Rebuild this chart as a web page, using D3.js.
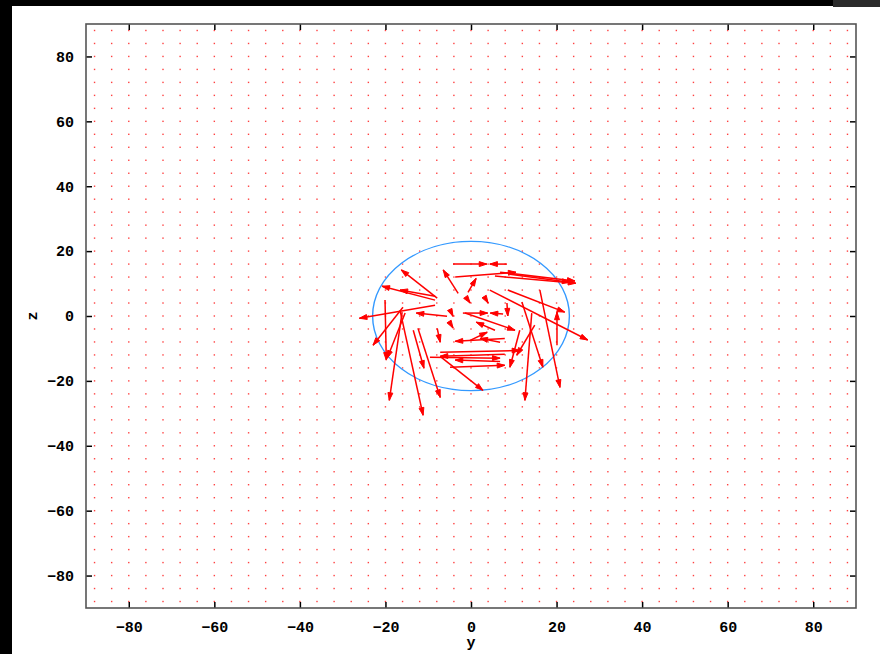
<!DOCTYPE html>
<html>
<head>
<meta charset="utf-8">
<script src="https://cdn.jsdelivr.net/npm/d3@7"></script>
<style>
  body { margin: 0; background: #fff; }
  svg { display: block; }
  .tick text { font-family: "Liberation Mono", "DejaVu Sans Mono", monospace; font-weight: bold; font-size: 15px; fill: #000; }
</style>
</head>
<body>
<div id="chart"></div>
<script>
// sample grid (both axes) where the field is evaluated
const gridCoords = [-88, -84, -80, -76, -72, -68, -64, -60, -56, -52, -48, -44, -40, -36, -32, -28, -24, -20, -16, -12, -8, -4,
    0, 4, 8, 12, 16, 20, 24, 28, 32, 36, 40, 44, 48, 52, 56, 60, 64, 68, 72, 76, 80, 84, 88];

const tickValues = [-80, -60, -40, -20, 0, 20, 40, 60, 80];

// non-zero vectors: start point and components
const vecX  = [-4.2, 8.4, -3.7, 5.6, 9.1, -7.9, -3.0, -8.4, -8.4, -8.4, -5.6, -1.9, 7.5, 8.4, 3.3, -0.7, -4.9, -1.4, -7.9, -13.5,
    -16.1, -16.6, -20.1, -15.9, -15.4, -12.4, 7.9, -9.6, -4.9, -7.0, 7.9, 11.9, 16.1, 14.2, 20.1, 4.4, 8.6, 14.9, 11.4, 5.6,
    -0.2, 6.8, -0.7, -4.9, -7.2, 6.8, 6.8];
const vecY  = [16.0, 16.0, 12.0, 12.3, 12.9, 5.5, 7.0, 4.9, 6.1, 3.3, -0.1, 0.9, 0.6, 4.0, 5.5, 4.9, -2.2, 0.9, -3.8, -4.4,
    1.2, 1.8, 4.9, 2.7, 0.9, -3.8, -11.8, -12.7, -15.8, -12.7, -6.9, 4.3, 8.0, 0.9, -9.0, 8.0, 8.0, -2.8, -4.4, -4.4,
    -7.5, -8.1, 7.3, 1.8, -11.2, -14.0, 13.5];
const vecDX = [7.9, -4.0, 14.2, 18.9, 14.0, -8.4, -3.5, -12.4, -8.2, -17.7, -7.2, 5.8, -3.0, 0.2, 0.7, 0.5, 0.7, 11.7, 0.7, 2.5,
    -3.0, 5.4, 0.3, -7.0, -4.2, 5.2, -15.1, 16.4, 12.8, 9.8, -11.6, 4.9, 4.7, -1.6, 0.0, 22.9, 13.3, -4.2, -2.3, -4.4,
    4.0, -4.7, 1.9, 0.7, 18.6, -10.5, 17.5];
const vecDY = [0.0, 0.0, 1.5, -2.2, -2.5, 8.7, 7.2, 4.3, 1.9, -4.0, 1.0, 0.0, 0.3, -4.0, -1.5, -0.9, -1.5, -5.3, -4.3, -11.7,
    -27.2, -32.4, -18.5, -11.7, -13.9, -21.3, -0.6, -0.3, 0.6, -10.2, -0.9, -20.1, -30.0, -26.9, 10.2, -15.4, -6.8, -9.3, -11.4, 2.5,
    2.5, 1.2, 4.3, -1.9, 0.6, 0.4, -2.7];

const circleRadius = 23;

const width = 880, height = 654;
const margin = { left: 86, right: 24, top: 24, bottom: 46 };

const svg = d3.select("#chart").append("svg")
    .attr("width", width)
    .attr("height", height);

// window chrome around the plot
svg.append("rect").attr("x", 0).attr("y", 0).attr("width", 833).attr("height", 6).attr("fill", "#000");
svg.append("rect").attr("x", 833).attr("y", 0).attr("width", 47).attr("height", 7).attr("fill", "#2a2a2a");
svg.append("rect").attr("x", 0).attr("y", 0).attr("width", 12).attr("height", height).attr("fill", "#000");

const x = d3.scaleLinear().domain([-90, 90]).range([margin.left, width - margin.right]);
const y = d3.scaleLinear().domain([-90, 90]).range([height - margin.bottom, margin.top]);

// grid of zero vectors drawn as dots
const gridPts = [];
gridCoords.forEach(gx => gridCoords.forEach(gy => gridPts.push([gx, gy])));

svg.append("g")
    .selectAll("rect")
    .data(gridPts)
    .enter()
    .append("rect")
    .attr("x", d => x(d[0]) - 0.7)
    .attr("y", d => y(d[1]) - 0.7)
    .attr("width", 1.4)
    .attr("height", 1.4)
    .attr("fill", "#ff2020")
    .attr("opacity", 0.85);

// boundary circle
svg.append("ellipse")
    .attr("cx", x(0))
    .attr("cy", y(0))
    .attr("rx", x(circleRadius) - x(0))
    .attr("ry", y(0) - y(circleRadius))
    .attr("fill", "none")
    .attr("stroke", "#3399ff")
    .attr("stroke-width", 1.4);

// vectors
const vectors = vecX.map((v, i) => ({ x0: v, y0: vecY[i], x1: v + vecDX[i], y1: vecY[i] + vecDY[i] }));
const headLen = 8, headAng = Math.PI / 10;

const vg = svg.append("g");
vectors.forEach(d => {
    const px0 = x(d.x0), py0 = y(d.y0), px1 = x(d.x1), py1 = y(d.y1);
    const a = Math.atan2(py1 - py0, px1 - px0);
    vg.append("line")
        .attr("x1", px0).attr("y1", py0)
        .attr("x2", px1).attr("y2", py1)
        .attr("stroke", "#ff0000")
        .attr("stroke-width", 1.5);
    const hx1 = px1 - headLen * Math.cos(a - headAng), hy1 = py1 - headLen * Math.sin(a - headAng);
    const hx2 = px1 - headLen * Math.cos(a + headAng), hy2 = py1 - headLen * Math.sin(a + headAng);
    vg.append("path")
        .attr("d", `M${hx1},${hy1}L${px1},${py1}L${hx2},${hy2}Z`)
        .attr("fill", "#ff0000")
        .attr("stroke", "#ff0000")
        .attr("stroke-width", 1);
});

// axes with inward ticks
const plotB = height - margin.bottom, plotR = width - margin.right;

svg.append("g")
    .attr("transform", `translate(0,${plotB})`)
    .call(d3.axisBottom(x).tickValues(tickValues).tickSize(-6).tickPadding(13))
    .call(g => g.select(".domain").remove());

svg.append("g")
    .attr("transform", `translate(0,${margin.top})`)
    .call(d3.axisTop(x).tickValues(tickValues).tickSize(-6).tickFormat(""))
    .call(g => g.select(".domain").remove());

svg.append("g")
    .attr("transform", `translate(${margin.left},0)`)
    .call(d3.axisLeft(y).tickValues(tickValues).tickSize(-6).tickPadding(12))
    .call(g => g.select(".domain").remove());

svg.append("g")
    .attr("transform", `translate(${plotR},0)`)
    .call(d3.axisRight(y).tickValues(tickValues).tickSize(-6).tickFormat(""))
    .call(g => g.select(".domain").remove());

svg.selectAll(".tick line").attr("stroke", "#000").attr("stroke-width", 1.5);

// frame
svg.append("rect")
    .attr("x", margin.left)
    .attr("y", margin.top)
    .attr("width", plotR - margin.left)
    .attr("height", plotB - margin.top)
    .attr("fill", "none")
    .attr("stroke", "#555")
    .attr("stroke-width", 1.6);

// axis titles
svg.append("text")
    .attr("x", x(0))
    .attr("y", 647)
    .attr("text-anchor", "middle")
    .style("font-family", "Liberation Mono, monospace")
    .style("font-weight", "bold")
    .style("font-size", "15px")
    .text("y");

svg.append("text")
    .attr("transform", `translate(37,${y(0)}) rotate(-90)`)
    .attr("text-anchor", "middle")
    .style("font-family", "Liberation Mono, monospace")
    .style("font-weight", "bold")
    .style("font-size", "15px")
    .text("z");
</script>
</body>
</html>
